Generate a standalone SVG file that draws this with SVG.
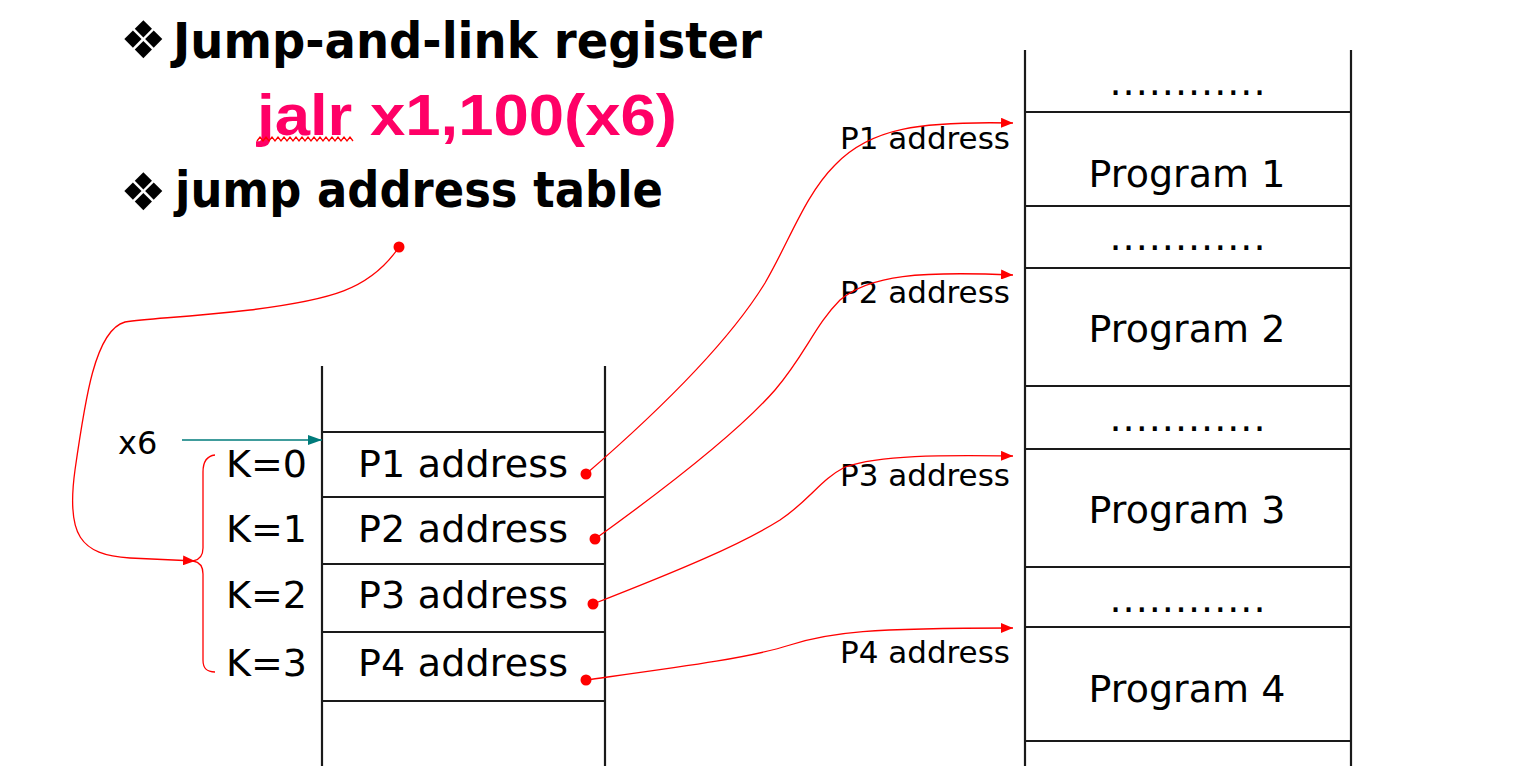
<svg xmlns="http://www.w3.org/2000/svg" width="1514" height="766" viewBox="0 0 1514 766">
<style>
.ln{stroke:#1a1a1a;stroke-width:2.2;fill:none}
.t{font-family:"DejaVu Sans",Verdana,sans-serif;fill:#000}
.big{font-size:38px}
.lbl{font-size:31px}
.title{font-family:"DejaVu Sans",sans-serif;font-weight:bold;font-size:49px;fill:#000}
.bul{font-family:"DejaVu Sans",sans-serif;font-size:52px;fill:#000}
.rc{stroke:#ff0000;stroke-width:1.3;fill:none}
.dot{fill:#ff0000}
</style>
<defs>
<marker id="ra" viewBox="0 0 12 10" refX="12" refY="5" markerWidth="12" markerHeight="10" markerUnits="userSpaceOnUse" orient="auto"><path d="M0,0 L12,5 L0,10 z" fill="#ff0000"/></marker>
<marker id="ta" viewBox="0 0 14 10" refX="14" refY="5" markerWidth="14" markerHeight="10" markerUnits="userSpaceOnUse" orient="auto"><path d="M0,0 L14,5 L0,10 z" fill="#007b7b"/></marker>
</defs>

<g id="title">
<text class="bul" x="120" y="58">❖</text>
<text class="title" x="173" y="58" textLength="589" lengthAdjust="spacingAndGlyphs">Jump-and-link register</text>
<text x="257" y="135" font-family="'Liberation Sans',Arial,sans-serif" font-weight="bold" font-size="57" fill="#ff0066" textLength="420" lengthAdjust="spacingAndGlyphs">jalr x1,100(x6)</text>
<polyline fill="none" stroke="#ff0000" stroke-width="1.3" points="257,141 260,137 263,141 266,137 269,141 272,137 275,141 278,137 281,141 284,137 287,141 290,137 293,141 296,137 299,141 302,137 305,141 308,137 311,141 314,137 317,141 320,137 323,141 326,137 329,141 332,137 335,141 338,137 341,141 344,137 347,141 350,137 353,141"/>
<text class="bul" x="120" y="210">❖</text>
<text class="title" x="175" y="207" textLength="488" lengthAdjust="spacingAndGlyphs">jump address table</text>
</g>

<g id="jump-table">
<line class="ln" x1="322" y1="366" x2="322" y2="766"/>
<line class="ln" x1="605" y1="366" x2="605" y2="766"/>
<line class="ln" x1="322" y1="432" x2="605" y2="432"/>
<line class="ln" x1="322" y1="497" x2="605" y2="497"/>
<line class="ln" x1="322" y1="564" x2="605" y2="564"/>
<line class="ln" x1="322" y1="632" x2="605" y2="632"/>
<line class="ln" x1="322" y1="701" x2="605" y2="701"/>
</g>
<g id="entry-p1"><text class="t big" x="358" y="477" textLength="210">P1 address</text><circle class="dot" cx="586" cy="474" r="5.5"/></g>
<g id="entry-p2"><text class="t big" x="358" y="542" textLength="210">P2 address</text><circle class="dot" cx="595" cy="539" r="5.5"/></g>
<g id="entry-p3"><text class="t big" x="358" y="608" textLength="210">P3 address</text><circle class="dot" cx="593" cy="604" r="5.5"/></g>
<g id="entry-p4"><text class="t big" x="358" y="676" textLength="210">P4 address</text><circle class="dot" cx="586" cy="680" r="5.5"/></g>

<g id="k-labels">
<text class="t big" x="226" y="477">K=0</text>
<text class="t big" x="226" y="542">K=1</text>
<text class="t big" x="226" y="608">K=2</text>
<text class="t big" x="226" y="676">K=3</text>
<path class="rc" d="M215,455 C206,456 203,462 203,472 L203,548 C203,556 199,560 193,561 C199,562 203,566 203,574 L203,660 C203,668 206,672 215,672"/>
</g>

<g id="x6"><text class="t" font-size="32" x="118" y="454">x6</text></g>

<g id="memory">
<line class="ln" x1="1025" y1="50" x2="1025" y2="766"/>
<line class="ln" x1="1351" y1="50" x2="1351" y2="766"/>
<line class="ln" x1="1025" y1="112" x2="1351" y2="112"/>
<line class="ln" x1="1025" y1="206" x2="1351" y2="206"/>
<line class="ln" x1="1025" y1="268" x2="1351" y2="268"/>
<line class="ln" x1="1025" y1="386" x2="1351" y2="386"/>
<line class="ln" x1="1025" y1="449" x2="1351" y2="449"/>
<line class="ln" x1="1025" y1="567" x2="1351" y2="567"/>
<line class="ln" x1="1025" y1="627" x2="1351" y2="627"/>
<line class="ln" x1="1025" y1="741" x2="1351" y2="741"/>
</g>
<g id="gap-1"><text class="t big" x="1188" y="95" text-anchor="middle" letter-spacing="1">............</text></g>
<g id="program-1"><text class="t big" x="1187" y="187" text-anchor="middle" textLength="197">Program 1</text></g>
<g id="gap-2"><text class="t big" x="1188" y="250" text-anchor="middle" letter-spacing="1">............</text></g>
<g id="program-2"><text class="t big" x="1187" y="342" text-anchor="middle" textLength="197">Program 2</text></g>
<g id="gap-3"><text class="t big" x="1188" y="431" text-anchor="middle" letter-spacing="1">............</text></g>
<g id="program-3"><text class="t big" x="1187" y="523" text-anchor="middle" textLength="197">Program 3</text></g>
<g id="gap-4"><text class="t big" x="1188" y="612" text-anchor="middle" letter-spacing="1">............</text></g>
<g id="program-4"><text class="t big" x="1187" y="702" text-anchor="middle" textLength="197">Program 4</text></g>

<g id="addr-labels">
<text class="t lbl" x="1010" y="149" text-anchor="end">P1 address</text>
<text class="t lbl" x="1010" y="303" text-anchor="end">P2 address</text>
<text class="t lbl" x="1010" y="486" text-anchor="end">P3 address</text>
<text class="t lbl" x="1010" y="663" text-anchor="end">P4 address</text>
</g>

<g id="connectors">
<line x1="182" y1="440" x2="322" y2="440" stroke="#007b7b" stroke-width="1.5" marker-end="url(#ta)"/>
<circle class="dot" cx="399" cy="247" r="5.5"/>
<path class="rc" marker-end="url(#ra)" d="M399,247 C370,290 330,300 250,310 C180,318 150,318 125,322 C95,330 85,400 75,470 C66,535 80,555 130,558 L195,561"/>
<path class="rc" marker-end="url(#ra)" d="M586,474 C660,410 730,340 765,283 C790,240 805,195 835,165 C870,128 920,121 1013,123"/>
<path class="rc" marker-end="url(#ra)" d="M595,539 C670,485 740,430 775,390 C805,355 815,325 840,300 C870,275 920,271 1013,275"/>
<path class="rc" marker-end="url(#ra)" d="M593,604 C680,570 740,545 780,520 C810,500 820,480 845,467 C880,455 940,455 1013,456"/>
<path class="rc" marker-end="url(#ra)" d="M586,680 C680,667 750,658 790,645 C830,632 870,628 1013,628"/>
</g>
</svg>
